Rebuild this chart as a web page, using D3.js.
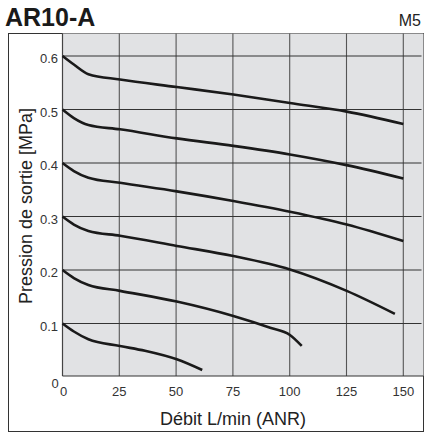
<!DOCTYPE html>
<html><head><meta charset="utf-8">
<script src="https://cdn.jsdelivr.net/npm/d3@7"></script>
<style>body{margin:0;background:#fff}svg{display:block}text{font-family:"Liberation Sans",Arial,sans-serif}</style>
</head><body><svg id="c" width="426" height="434"></svg>
<script>
const xTicks=[0,25,50,75,100,125,150];
const yTicks=[0.1,0.2,0.3,0.4,0.5,0.6];
const xTickLabels=["0","25","50","75","100","125","150"];
const yTickLabels=["0.1","0.2","0.3","0.4","0.5","0.6"];
const flow06=[0,5,11.4,25.3,50.3,75.2,100.1,125.1,150];
const pres06=[0.6,0.584,0.566,0.556,0.542,0.528,0.512,0.496,0.473];
const flow05=[0,5,11.4,25.3,50.3,75.2,100.1,125,150];
const pres05=[0.5,0.484,0.471,0.463,0.446,0.432,0.416,0.396,0.371];
const flow04=[0,5,11.4,25.3,50.3,75.2,100.1,125.1,150];
const pres04=[0.4,0.385,0.3725,0.363,0.347,0.329,0.309,0.285,0.254];
const flow03=[0,5,11.4,25.3,50.3,75.2,100.1,125.1,146.3];
const pres03=[0.3,0.285,0.273,0.264,0.245,0.226,0.201,0.161,0.118];
const flow02=[0,5,11.4,25.3,50.3,75.2,91.4,100.1,105.3];
const pres02=[0.2,0.185,0.172,0.161,0.141,0.114,0.092,0.0785,0.058];
const flow01=[0,5,11.4,25.3,36.3,50.3,61.5];
const pres01=[0.1,0.085,0.0705,0.058,0.049,0.033,0.013];
const series=[[flow06,pres06],[flow05,pres05],[flow04,pres04],[flow03,pres03],[flow02,pres02],[flow01,pres01]];

const svg=d3.select("#c");
const x=d3.scaleLinear().domain([0,150]).range([62.5,403.3]);
const y=d3.scaleLinear().domain([0,0.6]).range([377,56]);
const pL=62.5,pR=423.5,pT=33.5,pB=376;

// outer frame
svg.append("rect").attr("x",8.5).attr("y",33.5).attr("width",415).attr("height",398)
  .attr("fill","none").attr("stroke","#333").attr("stroke-width",1);
// plot background
svg.append("rect").attr("x",pL).attr("y",pT).attr("width",pR-pL).attr("height",pB-pT)
  .attr("fill","#e1e2e4");
// vertical grid
svg.append("g").selectAll("line").data(xTicks.slice(1)).join("line")
  .attr("x1",d=>x(d)).attr("x2",d=>x(d)).attr("y1",pT).attr("y2",pB)
  .attr("stroke","#555").attr("stroke-width",1.1);
// horizontal grid
svg.append("g").selectAll("line").data(yTicks).join("line")
  .attr("x1",pL).attr("x2",421.5).attr("y1",d=>y(d)).attr("y2",d=>y(d))
  .attr("stroke","#333").attr("stroke-width",1.1);
// axes lines
svg.append("line").attr("x1",pL).attr("x2",pL).attr("y1",pT).attr("y2",pB).attr("stroke","#444").attr("stroke-width",1.2);
svg.append("line").attr("x1",pL).attr("x2",pR).attr("y1",pB).attr("y2",pB).attr("stroke","#333").attr("stroke-width",1.2);

// tick labels
svg.append("g").selectAll("text").data(xTicks).join("text")
  .attr("x",(d)=>x(d)+(d===0?1:0)).attr("y",396).attr("text-anchor","middle")
  .attr("font-size",13).attr("fill","#333").text((d,i)=>xTickLabels[i]);
svg.append("g").selectAll("text").data(yTicks).join("text")
  .attr("x",58).attr("y",d=>y(d)+7).attr("text-anchor","end")
  .attr("font-size",13).attr("fill","#333").text((d,i)=>yTickLabels[i]);
svg.append("text").attr("x",55).attr("y",388).attr("text-anchor","middle").attr("font-size",13).attr("fill","#333").text("0");

// curves
const line=d3.line().x(d=>x(d[0])).y(d=>y(d[1])).curve(d3.curveMonotoneX);
svg.append("g").selectAll("path").data(series).join("path")
  .attr("d",s=>line(s[0].map((f,i)=>[f,s[1][i]])))
  .attr("fill","none").attr("stroke","#1a1a1a").attr("stroke-width",2.6).attr("stroke-linecap","butt");

// titles
svg.append("text").attr("x",5).attr("y",26).attr("font-size",25).attr("font-weight","bold").attr("fill","#1a1a1a").text("AR10-A");
svg.append("text").attr("x",421).attr("y",26).attr("text-anchor","end").attr("font-size",16).attr("fill","#222").text("M5");
svg.append("text").attr("x",233).attr("y",425).attr("text-anchor","middle").attr("font-size",18).attr("fill","#222").text("Débit L/min (ANR)");
svg.append("text").attr("transform","translate(32,206) rotate(-90)").attr("text-anchor","middle").attr("font-size",18).attr("fill","#222").text("Pression de sortie [MPa]");
</script></body></html>
